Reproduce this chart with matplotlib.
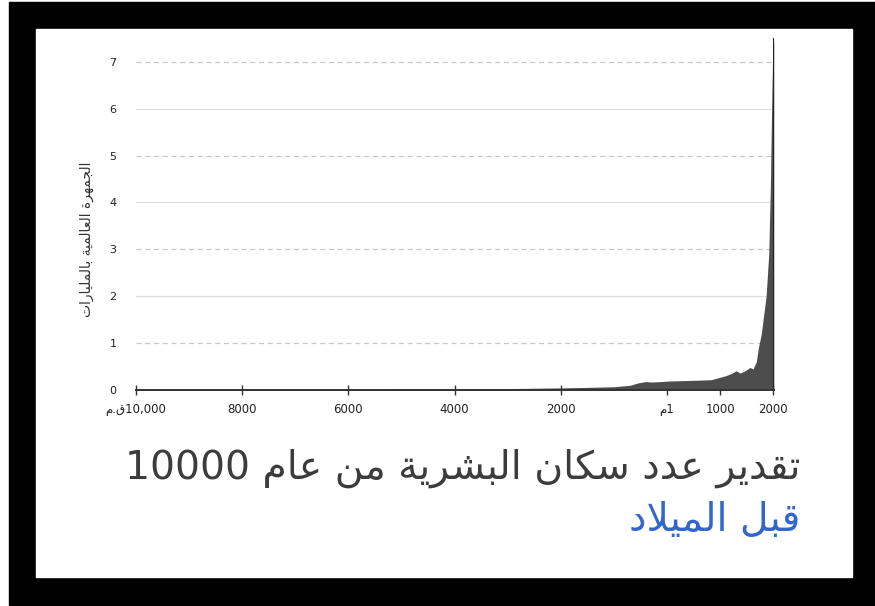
#!/usr/bin/env python3
"""
plot.py — World population estimate since 10,000 BC (Arabic labels).

Draws a filled area chart of the estimated world population and saves
it as out.png (875x606).
"""

import matplotlib
matplotlib.use("Agg")
import matplotlib.pyplot as plt
from matplotlib.patches import Rectangle

# Years (negative = BC) and population in billions
years = [-10000, -9000, -8000, -7000, -6000, -5000, -4000, -3000, -2000,
         -1500, -1000, -700, -550, -400, -300, -100, 1, 300, 600, 830,
         960, 1090, 1210, 1300, 1375, 1470, 1560, 1620, 1680, 1720, 1775,
         1820, 1865, 1915, 1945, 1965, 1985, 2010]
population = [0.004, 0.005, 0.006, 0.008, 0.01, 0.014, 0.02, 0.03, 0.045,
              0.055, 0.07, 0.1, 0.15, 0.18, 0.17, 0.18, 0.19, 0.2, 0.21,
              0.22, 0.26, 0.3, 0.35, 0.41, 0.36, 0.41, 0.48, 0.45, 0.6,
              0.9, 1.2, 1.6, 2.0, 2.9, 4.3, 5.75, 7.0, 7.5]

x_ticks = [-10000, -8000, -6000, -4000, -2000, 1, 1000, 2000]
y_ticks = [0, 1, 2, 3, 4, 5, 6, 7]

title_line1 = "تقدير عدد سكان البشرية من عام"
title_year = "10000"
title_line2 = "قبل الميلاد"
y_label = "الجمهرة العالمية بالمليارات"
bc_suffix = "ق.م"
ad_suffix = "م"


# --- minimal Arabic shaping (matplotlib does no shaping / bidi) -------------
# (isolated, final, initial, medial); right-joining letters have only two
FORMS = {
    "ا": ("\uFE8D", "\uFE8E"),
    "ب": ("\uFE8F", "\uFE90", "\uFE91", "\uFE92"),
    "ة": ("\uFE93", "\uFE94"),
    "ت": ("\uFE95", "\uFE96", "\uFE97", "\uFE98"),
    "ج": ("\uFE9D", "\uFE9E", "\uFE9F", "\uFEA0"),
    "د": ("\uFEA9", "\uFEAA"),
    "ر": ("\uFEAD", "\uFEAE"),
    "س": ("\uFEB1", "\uFEB2", "\uFEB3", "\uFEB4"),
    "ش": ("\uFEB5", "\uFEB6", "\uFEB7", "\uFEB8"),
    "ع": ("\uFEC9", "\uFECA", "\uFECB", "\uFECC"),
    "ق": ("\uFED5", "\uFED6", "\uFED7", "\uFED8"),
    "ك": ("\uFED9", "\uFEDA", "\uFEDB", "\uFEDC"),
    "ل": ("\uFEDD", "\uFEDE", "\uFEDF", "\uFEE0"),
    "م": ("\uFEE1", "\uFEE2", "\uFEE3", "\uFEE4"),
    "ن": ("\uFEE5", "\uFEE6", "\uFEE7", "\uFEE8"),
    "ه": ("\uFEE9", "\uFEEA", "\uFEEB", "\uFEEC"),
    "ي": ("\uFEF1", "\uFEF2", "\uFEF3", "\uFEF4"),
}
LAM_ALEF = ("\uFEFB", "\uFEFC")


def dual(c):
    return c in FORMS and len(FORMS[c]) == 4


def rtl(text):
    """Shape Arabic text and return it in visual (left-to-right) order."""
    out = []
    i = 0
    while i < len(text):
        c = text[i]
        prev_joins = i > 0 and dual(text[i - 1])
        if c == "ل" and i + 1 < len(text) and text[i + 1] == "ا":
            out.append(LAM_ALEF[1] if prev_joins else LAM_ALEF[0])
            i += 2
            continue
        if c not in FORMS:
            out.append(c)
            i += 1
            continue
        next_joins = i + 1 < len(text) and text[i + 1] in FORMS
        f = FORMS[c]
        if dual(c):
            if prev_joins and next_joins:
                out.append(f[3])
            elif prev_joins:
                out.append(f[1])
            elif next_joins:
                out.append(f[2])
            else:
                out.append(f[0])
        else:
            out.append(f[1] if prev_joins else f[0])
        i += 1
    return "".join(reversed(out))


def tick_label(y):
    if y == -10000:
        return rtl(bc_suffix) + "10,000"
    if y < 0:
        return str(-y)
    if y == 1:
        return rtl(ad_suffix) + "1"
    return str(y)


def main():
    W, H = 875, 606
    fig = plt.figure(figsize=(W / 100, H / 100), dpi=100)
    fig.patch.set_facecolor("white")

    # black frame around a white card (behind the axes)
    fig.patches.append(Rectangle((9 / W, 1 - 605 / H), (W - 9) / W, 603 / H,
                                 transform=fig.transFigure, color="black",
                                 zorder=-2))
    fig.patches.append(Rectangle((36 / W, 1 - 577 / H), 816 / W, 548 / H,
                                 transform=fig.transFigure, color="white",
                                 zorder=-1))

    ax = fig.add_axes([136 / W, 1 - 390 / H, 637.8 / W, 351.7 / H])
    ax.set_facecolor("none")
    ax.set_xlim(-10000, 2010)
    ax.set_ylim(0, 7.5)

    # grid: dashed on odd values, solid on even ones
    for v in y_ticks[1:]:
        if v % 2:
            ax.axhline(v, color="#c8c8c8", linewidth=0.9, linestyle=(0, (4, 3)),
                       zorder=1)
        else:
            ax.axhline(v, color="#dedede", linewidth=0.9, zorder=1)

    ax.fill_between(years, population, 0, color="#4d4d4d", linewidth=0,
                    zorder=2)
    ax.plot([years[-1], years[-1]], [0, population[-1]], color="#222222",
            linewidth=1.4, zorder=3)

    for s in ["top", "right", "left"]:
        ax.spines[s].set_visible(False)
    ax.spines["bottom"].set_color("#333333")
    ax.spines["bottom"].set_linewidth(1.4)
    ax.spines["bottom"].set_zorder(4)

    ax.set_xticks(x_ticks)
    ax.set_xticklabels([tick_label(y) for y in x_ticks], fontsize=8.5,
                       color="#222222", family="DejaVu Sans")
    ax.tick_params(axis="x", direction="inout", length=7, width=1,
                   color="#333333", pad=6)
    ax.set_yticks(y_ticks)
    ax.set_yticklabels([str(v) for v in y_ticks], fontsize=8, color="#222222")
    ax.tick_params(axis="y", length=0, pad=14)

    fig.text(87 / W, 1 - 239 / H, rtl(y_label), rotation=90, fontsize=10,
             color="#333333", ha="center", va="center", family="DejaVu Sans")

    # caption under the chart, right aligned
    fig.text(800 / W, 1 - 479 / H, title_year + " " + rtl(title_line1),
             fontsize=28.3, color="#3c3c3c", ha="right", va="baseline",
             family="DejaVu Sans")
    fig.text(800 / W, 1 - 531 / H, rtl(title_line2), fontsize=28.3,
             color="#3366cc", ha="right", va="baseline", family="DejaVu Sans")

    fig.savefig("out.png", dpi=100, facecolor=fig.get_facecolor())
    plt.close(fig)


if __name__ == "__main__":
    main()
